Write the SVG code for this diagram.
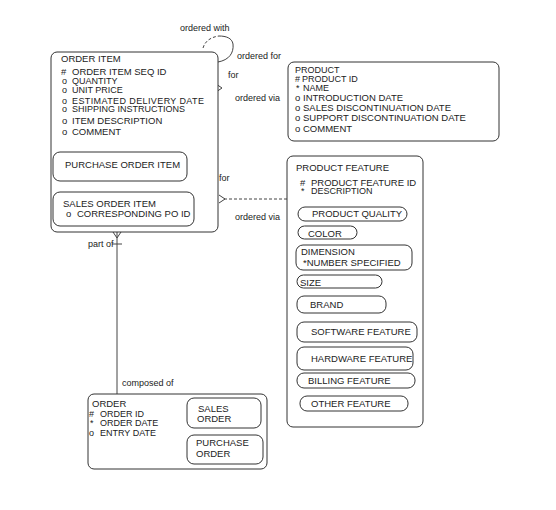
<svg xmlns="http://www.w3.org/2000/svg" width="556" height="510" viewBox="0 0 556 510">
<style>
text{font-family:"Liberation Sans",Arial,sans-serif;font-size:9.5px;fill:#222}
.l{font-size:9px}
.t{font-size:9px}
.box{fill:#fff;stroke:#333;stroke-width:1}
.sub{fill:none;stroke:#333;stroke-width:1}
.c{fill:none;stroke:#444;stroke-width:1}
</style>
<rect width="556" height="510" fill="#fff"/>
<g id="connectors">
<path class="c" d="M203 48 C205 41,211 37,219 36" stroke-dasharray="3,2"/>
<path class="c" d="M219 36 C226 36,232 38,233 44 C234 53,229 60,218 62"/>
<path class="c" d="M216 84 L222 88 L216 92"/>
<path class="c" d="M224 199 L290 199" stroke-dasharray="3,2"/>
<path class="c" d="M219 195 L225 199 L219 203"/>
<path class="c" d="M117 232 L117 394"/>
<path class="c" d="M113 232 L117 238 L121 232"/>
<path class="c" d="M112 244 L122 244"/>
<text class="l" x="180" y="31">ordered with</text>
<text class="l" x="237" y="59">ordered for</text>
<text class="l" x="228" y="78">for</text>
<text class="l" x="235" y="101">ordered via</text>
<text class="l" x="219" y="181">for</text>
<text class="l" x="235" y="220">ordered via</text>
<text class="l" x="88" y="247">part of</text>
<text class="l" x="122" y="386">composed of</text>
</g>
<g id="order-item">
<rect class="box" x="51" y="52" width="167" height="180" rx="6"/>
<text x="61" y="62">ORDER ITEM</text>
<text x="61" y="75">#</text><text x="72" y="75">ORDER ITEM SEQ ID</text>
<text class="t" x="62" y="84">o</text><text class="t" x="72" y="84">QUANTITY</text>
<text class="t" x="62" y="92.5">o</text><text class="t" x="72" y="92.5">UNIT PRICE</text>
<text class="t" x="62" y="103.5">o</text><text class="t" x="72" y="103.5" textLength="132">ESTIMATED DELIVERY DATE</text>
<text class="t" x="62" y="112">o</text><text class="t" x="72" y="112">SHIPPING INSTRUCTIONS</text>
<text x="62" y="123.5">o</text><text x="72" y="123.5">ITEM DESCRIPTION</text>
<text x="62" y="135">o</text><text x="72" y="135">COMMENT</text>
<g id="purchase-order-item">
<rect class="sub" x="53" y="152" width="134" height="29" rx="7"/>
<text x="65" y="167.5">PURCHASE ORDER ITEM</text>
</g>
<g id="sales-order-item">
<rect class="sub" x="53" y="192" width="141" height="34" rx="7"/>
<text x="63" y="206.5">SALES ORDER ITEM</text>
<text x="66" y="216.5">o</text><text x="77" y="216.5">CORRESPONDING PO ID</text>
</g>
</g>
<g id="product">
<rect class="box" x="288" y="62" width="211" height="79" rx="6"/>
<text class="t" x="295" y="73">PRODUCT</text>
<text class="t" x="295" y="81.5">#</text><text class="t" x="302" y="81.5">PRODUCT ID</text>
<text class="t" x="296" y="90.5">*</text><text class="t" x="303" y="90.5">NAME</text>
<text x="295" y="100.5">o</text><text x="303" y="100.5">INTRODUCTION DATE</text>
<text x="295" y="110.5">o</text><text x="303" y="110.5">SALES DISCONTINUATION DATE</text>
<text x="295" y="121">o</text><text x="303" y="121">SUPPORT DISCONTINUATION DATE</text>
<text x="295" y="132">o</text><text x="303" y="132">COMMENT</text>
</g>
<g id="product-feature">
<rect class="box" x="287" y="156" width="136" height="271" rx="6"/>
<text x="296" y="170.5">PRODUCT FEATURE</text>
<text x="300" y="185.5">#</text><text x="311" y="185.5">PRODUCT FEATURE ID</text>
<text class="t" x="301" y="194">*</text><text class="t" x="311" y="194">DESCRIPTION</text>
<g id="product-quality"><rect class="sub" x="298" y="207" width="109" height="14" rx="7"/><text x="312" y="217">PRODUCT QUALITY</text></g>
<g id="color"><rect class="sub" x="298" y="226" width="59" height="13" rx="6.5"/><text x="308" y="236.5">COLOR</text></g>
<g id="dimension"><rect class="sub" x="296" y="245" width="116" height="25" rx="7"/><text x="301" y="255">DIMENSION</text><text x="303" y="266">*NUMBER SPECIFIED</text></g>
<g id="size"><rect class="sub" x="297" y="275" width="85" height="13" rx="6.5"/><text x="300" y="286">SIZE</text></g>
<g id="brand"><rect class="sub" x="297" y="296" width="89" height="17" rx="7"/><text x="310" y="307.5">BRAND</text></g>
<g id="software-feature"><rect class="sub" x="297" y="322" width="120" height="20" rx="7"/><text x="311" y="335">SOFTWARE FEATURE</text></g>
<g id="hardware-feature"><rect class="sub" x="297" y="347" width="116" height="23" rx="7"/><text x="311" y="362">HARDWARE FEATURE</text></g>
<g id="billing-feature"><rect class="sub" x="297" y="373" width="118" height="15" rx="7"/><text x="308" y="384">BILLING FEATURE</text></g>
<g id="other-feature"><rect class="sub" x="300" y="396" width="108" height="15" rx="7"/><text x="311" y="407">OTHER FEATURE</text></g>
</g>
<g id="order">
<rect class="box" x="88" y="394" width="179" height="75" rx="6"/>
<text x="92" y="406.5">ORDER</text>
<text class="t" x="89" y="416.5">#</text><text class="t" x="100" y="416.5">ORDER ID</text>
<text class="t" x="90" y="426">*</text><text class="t" x="100" y="426">ORDER DATE</text>
<text class="t" x="89" y="435.5">o</text><text class="t" x="100" y="435.5">ENTRY DATE</text>
<g id="sales-order"><rect class="sub" x="187" y="398" width="74" height="30" rx="7"/><text x="198" y="411.5">SALES</text><text x="197" y="421.5">ORDER</text></g>
<g id="purchase-order"><rect class="sub" x="187" y="435" width="76" height="29" rx="7"/><text x="196" y="445.5">PURCHASE</text><text x="196" y="456.5">ORDER</text></g>
</g>
</svg>
